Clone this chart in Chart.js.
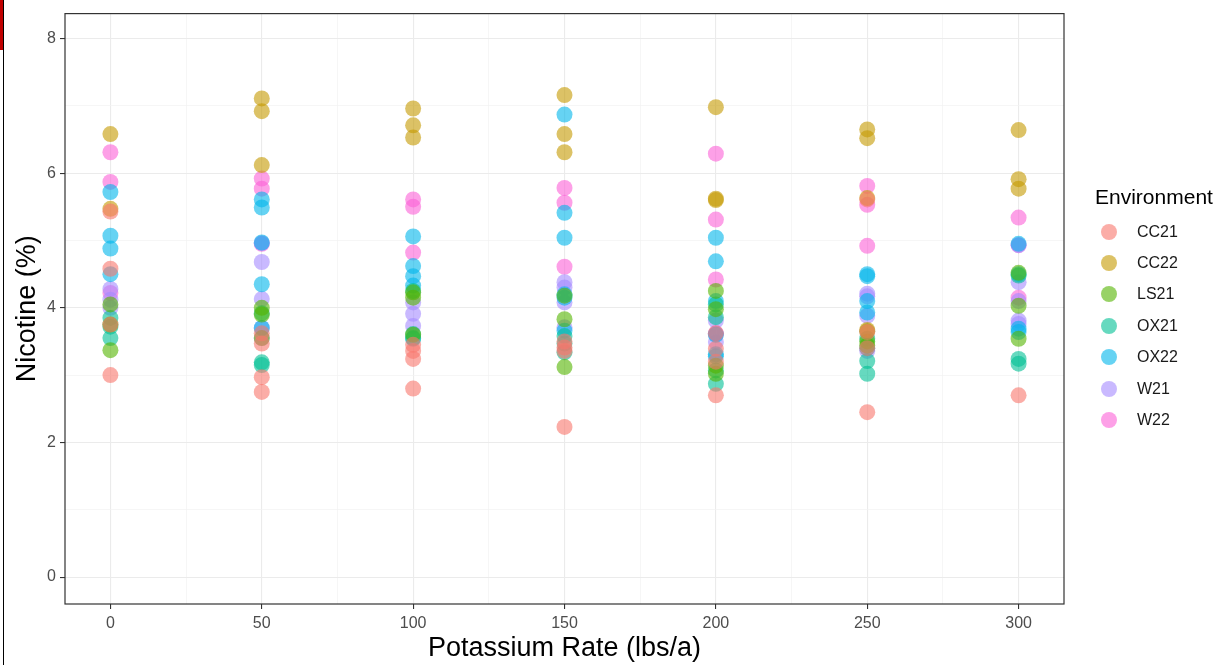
<!DOCTYPE html>
<html>
<head>
<meta charset="utf-8">
<script src="https://cdn.jsdelivr.net/npm/chart.js@4"></script>
<style>
  body{margin:0;background:#fff;}
  #wrap{position:relative;width:1214px;height:665px;overflow:hidden;}
  #chart{position:absolute;left:0;top:0;}
  #legend{position:absolute;left:1095px;top:181px;font-family:'Liberation Sans',Arial,sans-serif;color:#000;}
  #legend .ttl{font-size:21px;height:35px;line-height:32px;}
  #legend .row{height:31.4px;display:flex;align-items:center;font-size:16px;color:#1a1a1a;}
  #legend .dot{width:16px;height:16px;border-radius:50%;margin-left:6px;margin-right:20px;}
  .redbar{position:absolute;left:0;top:0;width:3px;height:50px;background:#c00000;}
  .edge{position:absolute;left:3px;top:0;width:1px;height:665px;background:#000;}
</style>
</head>
<body>
<div id="wrap">
  <canvas id="chart" width="1214" height="665"></canvas>
  <div id="legend"></div>
  <div class="redbar"></div>
  <div class="edge"></div>
</div>
<script>
// potassium rates (x) and nicotine values per environment, one inner list per rate
const rates = [0, 50, 100, 150, 200, 250, 300];
const envNames = ["CC21", "CC22", "LS21", "OX21", "OX22", "W21", "W22"];
const envColors = ["#F8766D", "#C49A00", "#53B400", "#00C094", "#00B6EB", "#A58AFF", "#FB61D7"];

const cc21 = [
  [5.43, 4.58, 3.75, 3.00],
  [3.62, 3.47, 2.97, 2.75],
  [3.36, 3.24, 3.45, 2.80],
  [3.41, 3.36, 3.50, 2.23],
  [3.62, 3.39, 3.20, 2.70],
  [5.61, 3.64, 3.40, 2.45],
  [2.70]
];
const cc22 = [
  [6.58, 5.47],
  [7.11, 6.92, 6.12],
  [6.96, 6.71, 6.53],
  [7.16, 6.58, 6.31],
  [6.98, 5.62, 5.60],
  [6.65, 6.52, 5.63, 3.67],
  [6.64, 5.91, 5.77]
];
const ls21 = [
  [4.05, 3.75, 3.37],
  [4.00, 3.90, 3.55],
  [4.23, 4.15, 3.60],
  [4.18, 3.83, 3.12],
  [4.25, 3.98, 3.14, 3.02],
  [3.65, 3.44, 3.50],
  [4.52, 4.03, 3.54]
];
const ox21 = [
  [3.85, 3.72, 3.55],
  [3.92, 3.19, 3.15],
  [4.25, 3.61, 3.55],
  [3.58, 3.47, 3.34],
  [4.05, 3.86, 3.07, 2.87],
  [3.54, 3.21, 3.02],
  [4.48, 3.24, 3.17]
];
const ox22 = [
  [5.72, 5.07, 4.88, 4.50],
  [5.61, 5.49, 4.97, 4.35, 3.70],
  [5.06, 4.62, 4.47, 4.33, 3.54],
  [6.87, 5.41, 5.04, 4.20, 4.15, 3.66],
  [5.04, 4.69, 4.10, 3.60, 3.31, 3.28],
  [4.50, 4.47, 4.10, 3.93, 3.40],
  [4.95, 4.50, 3.69, 3.64]
];
const w21 = [
  [4.28, 4.12, 4.00],
  [4.96, 4.68, 4.13, 3.70, 3.55],
  [4.08, 3.91, 3.73],
  [4.38, 4.30, 4.08, 3.71],
  [3.81, 3.61, 3.49],
  [4.21, 4.17, 3.88, 3.36],
  [4.93, 4.38, 4.10, 3.81, 3.76]
];
const w22 = [
  [6.31, 5.87, 4.22],
  [5.92, 5.77, 4.95],
  [5.61, 5.50, 4.82],
  [5.78, 5.56, 4.61],
  [6.29, 5.31, 4.42, 3.62],
  [5.81, 5.53, 4.92],
  [5.34, 4.93, 4.15]
];
const envValues = [cc21, cc22, ls21, ox21, ox22, w21, w22];

const xTicks = [0, 25, 50, 75, 100, 125, 150, 175, 200, 225, 250, 275, 300];
const yTicks = [0, 1, 2, 3, 4, 5, 6, 7, 8];

const fade = (hex, a) => {
  const n = parseInt(hex.slice(1), 16);
  return `rgba(${n >> 16},${(n >> 8) & 255},${n & 255},${a})`;
};

const datasets = envNames.map((name, i) => {
  const pts = [];
  envValues[i].forEach((vals, r) => vals.forEach(v => pts.push({x: rates[r], y: v})));
  return {
    label: name,
    data: pts,
    backgroundColor: fade(envColors[i], 0.6),
    borderColor: fade(envColors[i], 0.6),
    borderWidth: 0,
    pointRadius: 8,
    pointHoverRadius: 8
  };
});

// legend as html, from the same names/colours
const lg = document.getElementById("legend");
lg.innerHTML = `<div class="ttl">Environment</div>` +
  envNames.map((n, i) => `<div class="row"><span class="dot" style="background:${fade(envColors[i], 0.6)}"></span>${n}</div>`).join("");

const panelBorder = {
  id: "panelBorder",
  afterDraw(chart) {
    const {ctx, chartArea: a} = chart;
    ctx.save();
    ctx.strokeStyle = "#333";
    ctx.lineWidth = 1.2;
    ctx.strokeRect(a.left, a.top, a.right - a.left, a.bottom - a.top);
    ctx.restore();
  }
};

Chart.defaults.font.family = "'Liberation Sans', Arial, sans-serif";
Chart.defaults.animation = false;

new Chart(document.getElementById("chart"), {
  type: "scatter",
  data: {datasets},
  options: {
    responsive: false,
    layout: {padding: {top: 12, right: 150, left: 0, bottom: 0}},
    plugins: {legend: {display: false}, tooltip: {enabled: false}},
    scales: {
      x: {
        type: "linear",
        min: -15,
        max: 315,
        afterBuildTicks: s => { s.ticks = xTicks.map(v => ({value: v})); },
        afterFit: s => { s.height = 61; },
        border: {display: false},
        grid: {
          color: c => c.tick && c.tick.value % 50 === 0 ? "#EBEBEB" : "#F2F2F2",
          lineWidth: c => c.tick && c.tick.value % 50 === 0 ? 1.1 : 0.7,
          tickColor: c => c.tick && c.tick.value % 50 === 0 ? "#333" : "rgba(0,0,0,0)",
          tickLength: 5,
          tickWidth: 1.1
        },
        ticks: {
          autoSkip: false,
          maxRotation: 0,
          padding: 5,
          color: "#4D4D4D",
          font: {size: 16},
          callback: v => v % 50 === 0 ? String(v) : ""
        },
        title: {
          display: true,
          text: "Potassium Rate (lbs/a)",
          color: "#000",
          font: {size: 27},
          padding: {top: 0, bottom: 0}
        }
      },
      y: {
        min: -0.4,
        max: 8.37,
        afterBuildTicks: s => { s.ticks = yTicks.map(v => ({value: v})); },
        afterFit: s => { s.width = 65; },
        border: {display: false},
        grid: {
          color: c => c.tick && c.tick.value % 2 === 0 ? "#EBEBEB" : "#F2F2F2",
          lineWidth: c => c.tick && c.tick.value % 2 === 0 ? 1.1 : 0.7,
          tickColor: c => c.tick && c.tick.value % 2 === 0 ? "#333" : "rgba(0,0,0,0)",
          tickLength: 5,
          tickWidth: 1.1
        },
        ticks: {
          autoSkip: false,
          padding: 4,
          color: "#4D4D4D",
          font: {size: 16},
          callback: v => v % 2 === 0 ? String(v) : ""
        },
        title: {
          display: true,
          text: "Nicotine (%)",
          color: "#000",
          font: {size: 27},
          padding: {top: 11, bottom: 0}
        }
      }
    }
  },
  plugins: [panelBorder]
});
</script>
</body>
</html>
